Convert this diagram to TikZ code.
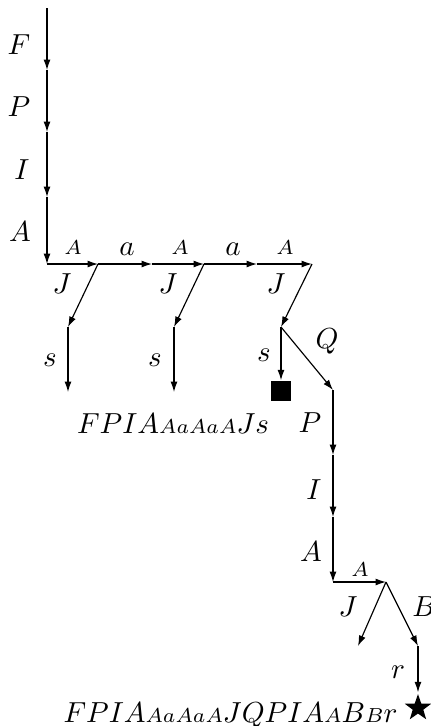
\documentclass[tikz,border=0pt]{standalone}
\usepackage{amsmath}
\usetikzlibrary{arrows.meta,shapes.geometric}
\newcommand{\pSmall}[1]{{\scriptstyle #1}}

\begin{document}
\begin{tikzpicture}[x=0.345pt,y=-0.345pt,
  edge/.style={-{Latex[length=3.6pt,width=2.4pt]},line width=0.4pt},
  lbl/.style={inner sep=0pt}]
\useasboundingbox (0,0) rectangle (430,726);
% vertices
\coordinate (v0) at (47,8);
\coordinate (v1) at (47,70);
\coordinate (v2) at (47,132);
\coordinate (v3) at (47,197);
\coordinate (v4) at (47,264);
\coordinate (h1) at (98,264);
\coordinate (h2) at (152,264);
\coordinate (h3) at (204,264);
\coordinate (h4) at (257,264);
\coordinate (h5) at (312,264);
\coordinate (d1) at (68,327);
\coordinate (e1) at (68,392);
\coordinate (d2) at (174,327);
\coordinate (e2) at (174,392);
\coordinate (d3) at (281,327);
\node[fill, minimum size=7pt, inner sep=0pt] (sq) at (281,391) {};
\coordinate (q1) at (333,390);
\coordinate (q2) at (333,455);
\coordinate (q3) at (333,517);
\coordinate (q4) at (333,582);
\coordinate (r1) at (386,582);
\coordinate (r2) at (358,646);
\coordinate (r3) at (418,646);
\node[star, star points=5, star point ratio=2.5, fill, inner sep=0pt, minimum size=9.6pt] (st) at (418,708) {};
% edges
\draw[edge] (v0) -- (v1);
\draw[edge] (v1) -- (v2);
\draw[edge] (v2) -- (v3);
\draw[edge] (v3) -- (v4);
\draw[edge] (v4) -- (h1);
\draw[edge] (h1) -- (h2);
\draw[edge] (h2) -- (h3);
\draw[edge] (h3) -- (h4);
\draw[edge] (h4) -- (h5);
\draw[edge] (h1) -- (d1);
\draw[edge] (d1) -- (e1);
\draw[edge] (h3) -- (d2);
\draw[edge] (d2) -- (e2);
\draw[edge] (h5) -- (d3);
\draw[edge] (d3) -- (sq);
\draw[edge] (d3) -- (q1);
\draw[edge] (q1) -- (q2);
\draw[edge] (q2) -- (q3);
\draw[edge] (q3) -- (q4);
\draw[edge] (q4) -- (r1);
\draw[edge] (r1) -- (r2);
\draw[edge] (r1) -- (r3);
\draw[edge] (r3) -- (st);
% labels
\node[lbl] (lF) at (19,45) {$F$};
\node[lbl] (lP) at (19,107) {$P$};
\node[lbl] (lI) at (22,170) {$I$};
\node[lbl] (lA) at (20,232) {$A$};
\node[lbl] (lh1) at (73,248) {$\scriptstyle A$};
\node[lbl] (lh2) at (127,249) {$a$};
\node[lbl] (lh3) at (180,248) {$\scriptstyle A$};
\node[lbl] (lh4) at (233,249) {$a$};
\node[lbl] (lh5) at (285,248) {$\scriptstyle A$};
\node[lbl] (lJ1) at (62,284) {$J$};
\node[lbl] (lJ2) at (168,284) {$J$};
\node[lbl] (lJ3) at (276,284) {$J$};
\node[lbl] (ls1) at (50,360) {$s$};
\node[lbl] (ls2) at (155,360) {$s$};
\node[lbl] (ls3) at (264,355) {$s$};
\node[lbl] (lQ) at (327,341) {$Q$};
\node[lbl] (lP2) at (310,423) {$P$};
\node[lbl] (lI2) at (314,490) {$I$};
\node[lbl] (lA2) at (311,552) {$A$};
\node[lbl] (lA3) at (360,570) {$\scriptstyle A$};
\node[lbl] (lJ4) at (348,607) {$J$};
\node[lbl] (lB) at (424,607) {$B$};
\node[lbl] (lr) at (398,672) {$r$};
\node[lbl, anchor=base] (w1) at (173,433) {$FPIA\pSmall{AaAaA}Js$};
\node[lbl, anchor=base east] (w2) at (398,722) {$FPIA\pSmall{AaAaA}JQPIA\pSmall{A}B\pSmall{B}r$};
\end{tikzpicture}
\end{document}
